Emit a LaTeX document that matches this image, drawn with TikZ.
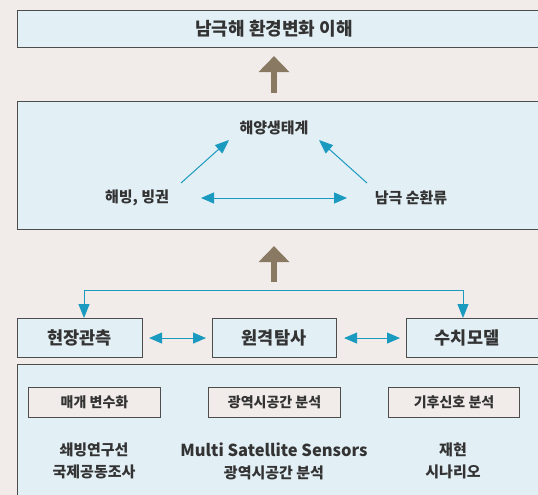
\documentclass[tikz,border=0pt]{standalone}
\usepackage{fontspec}
\setmainfont{Noto Sans CJK KR}
\usetikzlibrary{arrows.meta}
\definecolor{bgc}{HTML}{F1ECE9}
\definecolor{boxfill}{HTML}{E2EFF5}
\definecolor{edgec}{HTML}{4D4D4D}
\definecolor{brownc}{HTML}{8A7962}
\definecolor{cyanc}{HTML}{1B9AC0}
\definecolor{txtc}{HTML}{333333}
\tikzset{
  panel/.style={draw=edgec, line width=1.1pt, fill=boxfill, rectangle, inner sep=0pt},
  tagbox/.style={draw=edgec, line width=1.1pt, fill=bgc, rectangle, inner sep=0pt},
  lbl/.style={text=txtc, font=\bfseries, inner sep=0pt, align=center},
  bigarrow/.style={draw=brownc, line width=6.5pt, -{Triangle[length=16pt,width=30pt]}},
  cyanarrow/.style={draw=cyanc, line width=1pt, -{Triangle[length=14pt,width=11pt]}},
  cyandouble/.style={draw=cyanc, line width=1pt, {Triangle[length=13pt,width=11pt]}-{Triangle[length=13pt,width=11pt]}},
}
\begin{document}
\begin{tikzpicture}[x=1pt,y=-1pt]
\useasboundingbox (0,0) rectangle (538,495);
\clip (0,0) rectangle (538,495);
\fill[bgc] (0,0) rectangle (538,495);
% top
\node[panel, minimum width=530pt, minimum height=37pt, anchor=north west] (top) at (17,10) {};
\node[lbl, font=\bfseries\fontsize{18}{20}\selectfont] (toptxt) at (274,29) {남극해 환경변화 이해};
% middle
\node[panel, minimum width=530pt, minimum height=128pt, anchor=north west] (mid) at (17,101) {};
\node[lbl, font=\bfseries\fontsize{15}{17}\selectfont] (eco) at (274,128) {해양생태계};
\node[lbl, font=\bfseries\fontsize{15}{17}\selectfont] (ice) at (137,198) {해빙, 빙권};
\node[lbl, font=\bfseries\fontsize{15}{17}\selectfont] (acc) at (411,198) {남극 순환류};
\coordinate (d1s) at (181,183);
\coordinate (d1e) at (229,140);
\coordinate (d2s) at (367,183);
\coordinate (d2e) at (319,140);
\coordinate (h1) at (201,198);
\coordinate (h2) at (347,198);
\draw[cyanarrow] (d1s) -- (d1e);
\draw[cyanarrow] (d2s) -- (d2e);
\draw[cyandouble] (h1) -- (h2);
\draw[bigarrow] ([yshift=8pt]mid.north -| toptxt) -- ([yshift=-8pt]top.south -| toptxt);
% row
\node[panel, minimum width=125pt, minimum height=39pt, anchor=north west] (fa) at (17,318) {};
\node[panel, minimum width=124pt, minimum height=39pt, anchor=north west] (fb) at (212,318) {};
\node[panel, minimum width=140pt, minimum height=39pt, anchor=north west] (fc) at (406,318) {};
\node[lbl, font=\bfseries\fontsize{17.5}{20}\selectfont] (fatxt) at (79.5,337.5) {현장관측};
\node[lbl, font=\bfseries\fontsize{17.5}{20}\selectfont] (fbtxt) at (274,337.5) {원격탐사};
\node[lbl, font=\bfseries\fontsize{17.5}{20}\selectfont] (fctxt) at (467,337.5) {수치모델};
\coordinate (hub) at (274,290);
\coordinate (la) at (84,290);
\coordinate (lc) at (463,290);
\draw[draw=cyanc, line width=1pt] (la) -- (lc);
\draw[cyanarrow] (la) -- (la |- fa.north);
\draw[cyanarrow] (lc) -- (lc |- fc.north);
\draw[bigarrow] ([yshift=8pt]hub) -- ([yshift=-16pt]mid.south -| hub);
\draw[cyandouble, shorten <=6pt, shorten >=6pt] (fa.east) -- (fb.west);
\draw[cyandouble, shorten <=7pt, shorten >=6pt] (fb.east) -- (fc.west);
% bottom
\node[panel, minimum width=530pt, minimum height=150pt, anchor=north west] (bot) at (17,364) {};
\node[tagbox, minimum width=132pt, minimum height=30pt, anchor=north west] (ta) at (28,387) {};
\node[tagbox, minimum width=132pt, minimum height=30pt, anchor=north west] (tb) at (208,387) {};
\node[tagbox, minimum width=131pt, minimum height=30pt, anchor=north west] (tc) at (388,387) {};
\node[lbl, font=\bfseries\fontsize{14}{16}\selectfont] (tatxt) at (ta.center) {매개 변수화};
\node[lbl, font=\bfseries\fontsize{14}{16}\selectfont] (tbtxt) at (tb.center) {광역시공간 분석};
\node[lbl, font=\bfseries\fontsize{14}{16}\selectfont] (tctxt) at (tc.center) {기후신호 분석};
\node[lbl, font=\bfseries\fontsize{15}{22}\selectfont] (ba) at (94,461) {쇄빙연구선\\국제공동조사};
\node[lbl, font=\bfseries\fontsize{15}{22}\selectfont] (bb) at (274,461) {{\fontsize{16.5}{22}\selectfont Multi Satellite Sensors}\\광역시공간 분석};
\node[lbl, font=\bfseries\fontsize{15}{22}\selectfont] (bc) at (453,461) {재현\\시나리오};
\end{tikzpicture}
\end{document}
